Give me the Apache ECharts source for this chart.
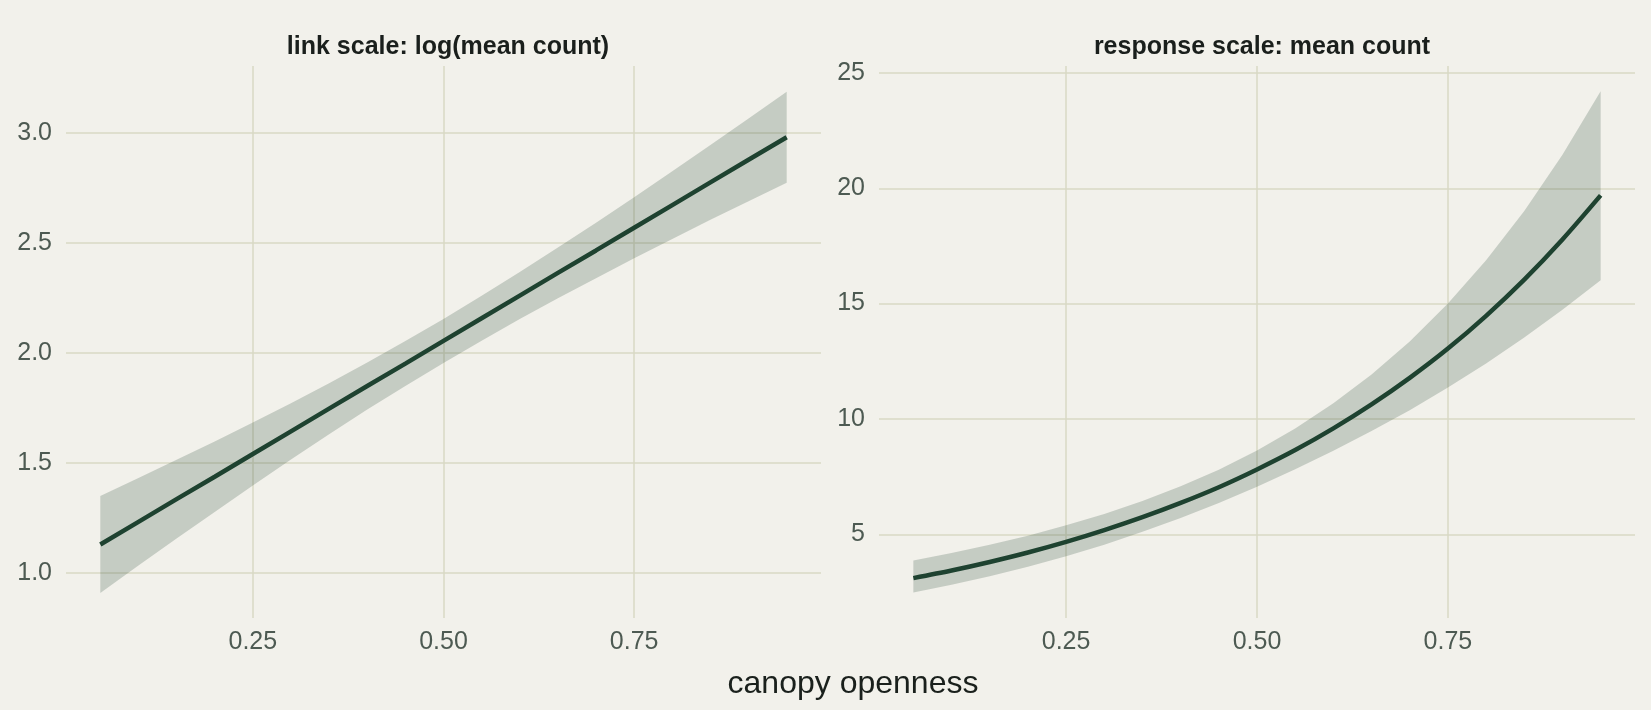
<!DOCTYPE html>
<html>
<head>
<meta charset="utf-8">
<script src="https://cdn.jsdelivr.net/npm/echarts@6/dist/echarts.min.js"></script>
<style>
  html, body { margin: 0; padding: 0; background: #f2f1eb; }
  #main { width: 1651px; height: 710px; }
</style>
</head>
<body>
<div id="main"></div>
<script>
// canopy openness grid
var openness = [0.05, 0.10, 0.15, 0.20, 0.25, 0.30, 0.35, 0.40, 0.45, 0.50,
                0.55, 0.60, 0.65, 0.70, 0.75, 0.80, 0.85, 0.90, 0.95];

// link scale: log(mean count)
var linkFit   = [1.130, 1.233, 1.336, 1.438, 1.541, 1.644, 1.747, 1.850, 1.952, 2.055,
                 2.158, 2.261, 2.364, 2.466, 2.569, 2.672, 2.775, 2.878, 2.980];
var linkLower = [0.910, 1.034, 1.157, 1.278, 1.398, 1.516, 1.631, 1.743, 1.850, 1.955,
                 2.056, 2.154, 2.249, 2.340, 2.430, 2.518, 2.605, 2.690, 2.773];
var linkUpper = [1.350, 1.432, 1.515, 1.598, 1.684, 1.772, 1.863, 1.957, 2.054, 2.155,
                 2.260, 2.368, 2.479, 2.592, 2.708, 2.826, 2.945, 3.066, 3.187];

// response scale: mean count
var respFit   = [3.10, 3.43, 3.80, 4.21, 4.67, 5.18, 5.74, 6.36, 7.04, 7.81,
                 8.65, 9.59, 10.63, 11.78, 13.05, 14.47, 16.04, 17.78, 19.69];
var respLower = [2.48, 2.81, 3.18, 3.59, 4.05, 4.55, 5.11, 5.71, 6.36, 7.06,
                 7.82, 8.62, 9.48, 10.38, 11.36, 12.40, 13.53, 14.73, 16.01];
var respUpper = [3.86, 4.19, 4.55, 4.94, 5.39, 5.88, 6.44, 7.08, 7.80, 8.63,
                 9.58, 10.68, 11.93, 13.36, 15.00, 16.88, 19.01, 21.45, 24.21];

// tick labels
var xTicks    = [0.25, 0.50, 0.75];
var linkTicks = [1.0, 1.5, 2.0, 2.5, 3.0];
var respTicks = [5, 10, 15, 20, 25];

var lineColor = '#1e4230';
var bandColor = 'rgba(31,64,48,0.21)';
var gridColor = '#d8d8c5';
var tickColor = '#4d5a52';
var font = 'Liberation Sans, Arial, sans-serif';

function pairs(xs, ys) {
    var out = [];
    for (var i = 0; i < xs.length; i++) out.push([xs[i], ys[i]]);
    return out;
}

function xAxisFor(idx) {
    return {
        type: 'value', gridIndex: idx, min: 0.005, max: 0.995,
        axisLine: { show: false },
        axisTick: { show: false, customValues: xTicks },
        axisLabel: {
            customValues: xTicks, color: tickColor, fontSize: 25, fontFamily: font, margin: 12,
            formatter: function (v) { return v.toFixed(2); }
        },
        splitLine: { show: true, lineStyle: { color: gridColor, width: 1.5 } }
    };
}
function yAxisFor(idx, min, max, ticks, digits) {
    return {
        type: 'value', gridIndex: idx, min: min, max: max,
        axisLine: { show: false },
        axisTick: { show: false, customValues: ticks },
        axisLabel: {
            customValues: ticks, color: tickColor, fontSize: 25, fontFamily: font, margin: 14,
            formatter: function (v) { return v.toFixed(digits); }
        },
        splitLine: { show: true, lineStyle: { color: gridColor, width: 1.5 } }
    };
}
function panelSeries(idx, lo, hi, fit, smooth) {
    return [{
        // confidence ribbon: upper edge forward, lower edge back
        type: 'custom', xAxisIndex: idx, yAxisIndex: idx, silent: true, z: 1,
        data: openness.map(function (x, i) { return [x, lo[i], hi[i]]; }),
        encode: { x: 0, y: [1, 2] },
        renderItem: function (params, api) {
            if (params.dataIndex !== 0) return null;
            var pts = [];
            for (var i = 0; i < openness.length; i++) pts.push(api.coord([openness[i], hi[i]]));
            for (var j = openness.length - 1; j >= 0; j--) pts.push(api.coord([openness[j], lo[j]]));
            return { type: 'polygon', shape: { points: pts }, style: { fill: bandColor } };
        }
    }, {
        type: 'line', xAxisIndex: idx, yAxisIndex: idx, z: 3,
        data: pairs(openness, fit), symbol: 'none', smooth: smooth,
        lineStyle: { color: lineColor, width: 4.5 }
    }];
}

var option = {
    backgroundColor: '#f2f1eb',
    animation: false,
    title: [{
        text: 'link scale: log(mean count)', left: 443, top: 30, textAlign: 'center',
        textStyle: { fontSize: 25, fontWeight: 'bold', color: '#1a1f1c', fontFamily: font }
    }, {
        text: 'response scale: mean count', left: 1257, top: 30, textAlign: 'center',
        textStyle: { fontSize: 25, fontWeight: 'bold', color: '#1a1f1c', fontFamily: font }
    }, {
        text: 'canopy openness', left: 848, top: 663, textAlign: 'center',
        textStyle: { fontSize: 32, fontWeight: 'normal', color: '#1a201c', fontFamily: font }
    }],
    grid: [
        { left: 66, width: 755, top: 66, height: 552 },
        { left: 879, width: 756, top: 66, height: 552 }
    ],
    xAxis: [xAxisFor(0), xAxisFor(1)],
    yAxis: [
        yAxisFor(0, 0.796, 3.304, linkTicks, 1),
        yAxisFor(1, 1.37, 25.3, respTicks, 0)
    ],
    series: panelSeries(0, linkLower, linkUpper, linkFit, false)
        .concat(panelSeries(1, respLower, respUpper, respFit, 0.3))
};

var myChart = echarts.init(document.getElementById('main'));
myChart.setOption(option);
</script>
</body>
</html>
